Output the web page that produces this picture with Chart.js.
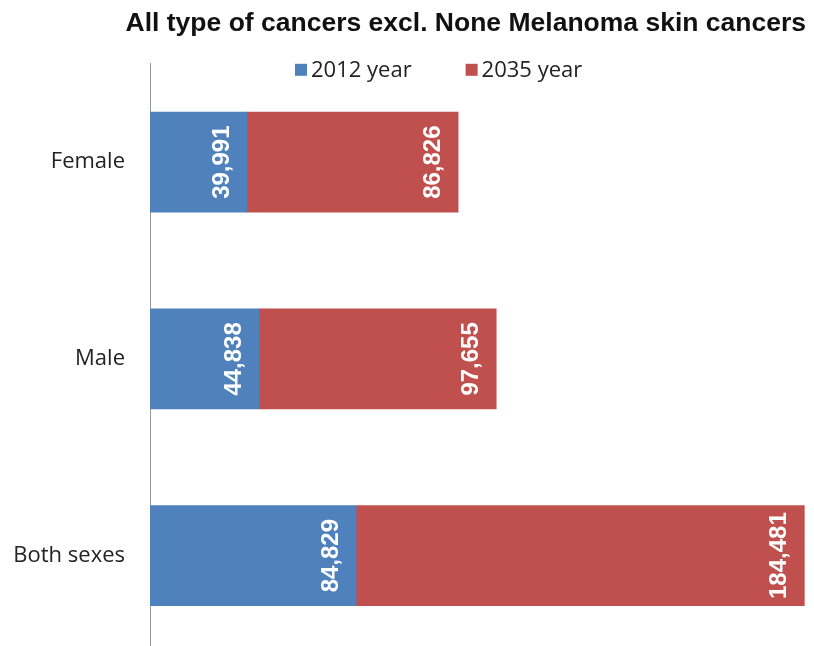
<!DOCTYPE html>
<html>
<head>
<meta charset="utf-8">
<title>All type of cancers</title>
<script src="https://cdn.jsdelivr.net/npm/chart.js@4"></script>
<style>
  html, body { margin: 0; padding: 0; background: #fff; overflow: hidden; }
  canvas { display: block; }
</style>
</head>
<body>
<canvas id="cancerChart" width="814" height="654"></canvas>
<script>
// --- Data ---
const categories = ['Female', 'Male', 'Both sexes'];
const cases2012 = [39991, 44838, 84829];
const cases2035 = [86826, 97655, 184481];
const seriesNames = ['2012 year', '2035 year'];

const BLUE = '#4F81BD';
const RED = '#C0504D';
const TEXT = '#222222';

// white rotated value labels sitting at the end of each segment
const barValueLabels = {
    id: 'barValueLabels',
    afterDatasetsDraw(chart) {
        const ctx = chart.ctx;
        ctx.save();
        ctx.font = 'bold 24px "Liberation Sans", Arial, sans-serif';
        ctx.fillStyle = '#ffffff';
        ctx.textAlign = 'center';
        ctx.textBaseline = 'alphabetic';
        chart.data.datasets.forEach((ds, di) => {
            const meta = chart.getDatasetMeta(di);
            meta.data.forEach((bar, i) => {
                ctx.save();
                ctx.translate(bar.x - 18, bar.y);
                ctx.rotate(-Math.PI / 2);
                ctx.fillText(ds.data[i].toLocaleString('en-US'), 0, 0);
                ctx.restore();
            });
        });
        ctx.restore();
    }
};

// legend drawn over the top of the plot area
const plotLegend = {
    id: 'plotLegend',
    afterDraw(chart) {
        const ctx = chart.ctx;
        const area = chart.chartArea;
        ctx.save();
        ctx.font = '22px "Open Sans", sans-serif';
        ctx.textBaseline = 'middle';
        ctx.textAlign = 'left';
        let x = area.left + 145;
        const y = area.top + 6;
        chart.data.datasets.forEach(ds => {
            ctx.fillStyle = ds.backgroundColor;
            ctx.fillRect(x, y - 6, 12, 12);
            ctx.fillStyle = TEXT;
            ctx.fillText(ds.label, x + 16, y + 1);
            x += 16 + ctx.measureText(ds.label).width + 54;
        });
        ctx.restore();
    }
};

const ctx = document.getElementById('cancerChart').getContext('2d');
new Chart(ctx, {
    type: 'bar',
    data: {
        labels: categories,
        datasets: [
            { label: seriesNames[0], data: cases2012, backgroundColor: BLUE },
            { label: seriesNames[1], data: cases2035, backgroundColor: RED }
        ]
    },
    options: {
        indexAxis: 'y',
        responsive: false,
        animation: false,
        datasets: {
            bar: { barThickness: 100, borderWidth: 0 }
        },
        layout: { padding: { left: 0, right: 8, top: 0, bottom: 0 } },
        plugins: {
            legend: { display: false },
            tooltip: { enabled: false },
            title: {
                display: true,
                text: 'All type of cancers excl. None Melanoma skin cancers',
                align: 'end',
                color: '#111111',
                font: { family: '"Liberation Sans", Arial, sans-serif', size: 26.5, weight: 'bold' },
                padding: { top: 8, bottom: 24 }
            }
        },
        scales: {
            x: {
                stacked: true,
                display: false,
                min: 0,
                max: 270000
            },
            y: {
                stacked: true,
                grid: { display: false, drawTicks: false },
                border: { display: true, color: '#999999', width: 1 },
                ticks: {
                    color: TEXT,
                    padding: 25,
                    font: { family: '"Open Sans", sans-serif', size: 22 }
                },
                afterFit(scale) {
                    // fixed label gutter, and let the plot run to the bottom edge
                    scale.width = 150;
                    scale.paddingTop = 0;
                    scale.paddingBottom = 0;
                }
            }
        }
    },
    plugins: [barValueLabels, plotLegend]
});
</script>
</body>
</html>
